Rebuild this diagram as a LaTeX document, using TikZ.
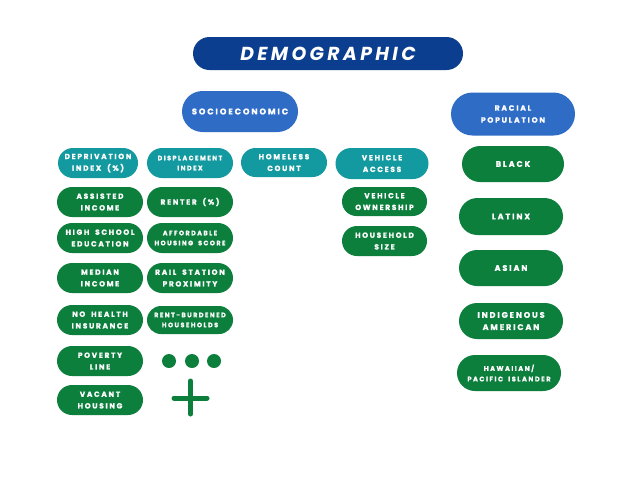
\documentclass[tikz,border=0pt]{standalone}
\usepackage{fontspec}
\setmainfont{Poppins}
\newfontfamily\lblfont{Poppins}[LetterSpace=23, WordSpace=1.8, BoldFeatures={FakeBold=1.2}]
\newfontfamily\titlefont{Poppins}[LetterSpace=18, BoldFeatures={FakeBold=1.2}]
\definecolor{darkblue}{HTML}{0C3E8F}
\definecolor{midblue}{HTML}{2E6CC6}
\definecolor{tealc}{HTML}{139AA0}
\definecolor{greenc}{HTML}{0C7F3D}
\tikzset{
  pillbox/.style n args={3}{rectangle, fill=#1, text=white, minimum width=#2, minimum height=#3,
     rounded corners=#3/2, inner sep=0pt, align=center,
     font=\lblfont\bfseries\fontsize{7.4}{11.7}\selectfont},
  smalltxt/.style={font=\lblfont\bfseries\fontsize{6.4}{10}\selectfont},
  bigtxt/.style={font=\lblfont\bfseries\fontsize{8.1}{12.2}\selectfont},
  dotc/.style={fill=greenc, draw=none},
  plusline/.style={draw=greenc, line width=5pt, line cap=round}
}
\begin{document}
\begin{tikzpicture}[x=1pt,y=-1pt]
\useasboundingbox[fill=white] (0,0) rectangle (636,477);
% headers
\node[pillbox={darkblue}{270pt}{33pt}, font=\titlefont\bfseries\itshape\fontsize{18.8}{20}\selectfont] (demo) at (328,53.5) {DEMOGRAPHIC};
\node[pillbox={midblue}{116pt}{41pt}, font=\lblfont\bfseries\fontsize{8.3}{12}\selectfont] (socio) at (240,111.5) {SOCIOECONOMIC};
\node[pillbox={midblue}{124pt}{43pt}, font=\lblfont\bfseries\fontsize{7.6}{12}\selectfont] (racial) at (513,114) {RACIAL\\POPULATION};
% teal row
\node[pillbox={tealc}{80pt}{30pt}] (depriv) at (98,163) {DEPRIVATION\\INDEX (\%)};
\node[pillbox={tealc}{86pt}{30pt}, smalltxt] (displ) at (190,163) {DISPLACEMENT\\INDEX};
\node[pillbox={tealc}{86pt}{29pt}] (homeless) at (284,162.5) {HOMELESS\\COUNT};
\node[pillbox={tealc}{93pt}{31pt}] (vacc) at (382,163.5) {VEHICLE\\ACCESS};
% column 1
\node[pillbox={greenc}{86pt}{30pt}] (assist) at (100,202) {ASSISTED\\INCOME};
\node[pillbox={greenc}{86pt}{30pt}] (hs) at (100,238) {HIGH SCHOOL\\EDUCATION};
\node[pillbox={greenc}{86pt}{30pt}] (median) at (100,278) {MEDIAN\\INCOME};
\node[pillbox={greenc}{86pt}{30pt}] (nohealth) at (100,320) {NO HEALTH\\INSURANCE};
\node[pillbox={greenc}{86pt}{30pt}] (poverty) at (100,361) {POVERTY\\LINE};
\node[pillbox={greenc}{86pt}{30pt}] (vacant) at (100,400) {VACANT\\HOUSING};
% column 2
\node[pillbox={greenc}{86pt}{30pt}] (renter) at (190,202) {RENTER (\%)};
\node[pillbox={greenc}{86pt}{30pt}, smalltxt] (afford) at (190,238) {AFFORDABLE\\HOUSING SCORE};
\node[pillbox={greenc}{86pt}{30pt}] (rail) at (190,278) {RAIL STATION\\PROXIMITY};
\node[pillbox={greenc}{86pt}{28pt}, smalltxt] (rentb) at (190,320) {RENT-BURDENED\\HOUSEHOLDS};
\node[circle, dotc, minimum size=14pt, inner sep=0pt] (d1) at (169,361) {};
\node[circle, dotc, minimum size=14pt, inner sep=0pt] (d2) at (192,361) {};
\node[circle, dotc, minimum size=14pt, inner sep=0pt] (d3) at (214,361) {};
\draw[plusline] (174,398) -- (207,398);
\draw[plusline] (190.5,381) -- (190.5,414);
% vehicle column
\node[pillbox={greenc}{85pt}{29pt}] (vown) at (384.5,201.5) {VEHICLE\\OWNERSHIP};
\node[pillbox={greenc}{85pt}{30pt}] (hh) at (384.5,241) {HOUSEHOLD\\SIZE};
% racial column
\node[pillbox={greenc}{102pt}{36pt}, bigtxt] (black) at (513,164) {BLACK};
\node[pillbox={greenc}{104pt}{37pt}, bigtxt] (latinx) at (511,216.5) {LATINX};
\node[pillbox={greenc}{104pt}{36pt}, bigtxt] (asian) at (511,268) {ASIAN};
\node[pillbox={greenc}{104pt}{36pt}, bigtxt] (indig) at (511,321) {INDIGENOUS\\AMERICAN};
\node[pillbox={greenc}{104pt}{36pt}, font=\lblfont\bfseries\fontsize{6.6}{10.5}\selectfont] (hawaii) at (509,373) {HAWAIIAN/\\PACIFIC ISLANDER};
\end{tikzpicture}
\end{document}
